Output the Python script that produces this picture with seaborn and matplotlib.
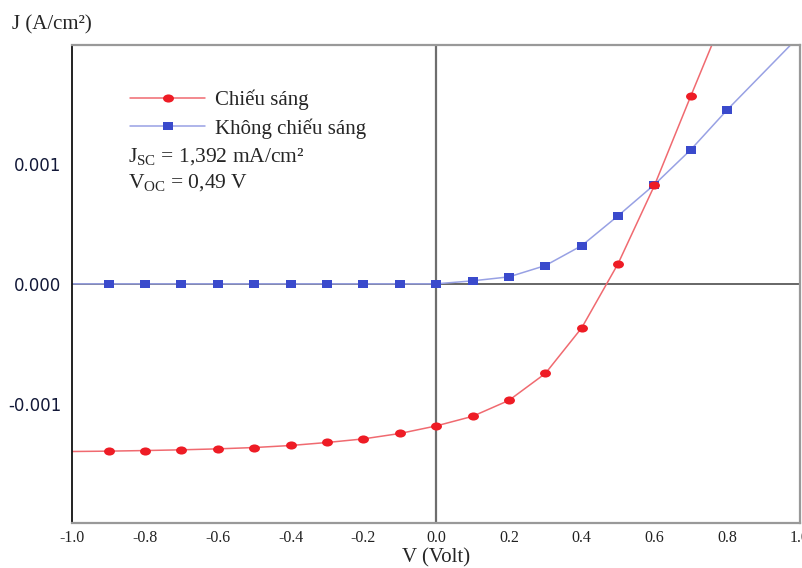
import matplotlib
matplotlib.use("Agg")
import matplotlib.pyplot as plt
import seaborn as sns
import pandas as pd
from matplotlib.lines import Line2D
from matplotlib.path import Path
from matplotlib.transforms import Affine2D

# ---- data ----
volt = [-0.9, -0.8, -0.7, -0.6, -0.5, -0.4, -0.3, -0.2, -0.1, 0.0,
        0.1, 0.2, 0.3, 0.4, 0.5, 0.6, 0.7]
j_light = [-1.394e-3, -1.389e-3, -1.383e-3, -1.375e-3, -1.364e-3, -1.347e-3,
           -1.322e-3, -1.292e-3, -1.247e-3, -1.184e-3, -1.104e-3, -0.971e-3,
           -0.747e-3, -0.367e-3, 0.168e-3, 0.820e-3, 1.566e-3]

volt_dark = [-0.9, -0.8, -0.7, -0.6, -0.5, -0.4, -0.3, -0.2, -0.1, 0.0,
             0.1, 0.2, 0.3, 0.4, 0.5, 0.6, 0.7, 0.8]
j_dark = [0.0, 0.0, 0.0, 0.0, 0.0, 0.0, 0.0, 0.0, 0.0, 0.0,
          0.025e-3, 0.058e-3, 0.152e-3, 0.318e-3, 0.567e-3, 0.827e-3,
          1.118e-3, 1.450e-3]

# curve end points (fitted lines extend beyond the markers)
light_curve_v = [-1.0] + volt + [0.8]
light_curve_j = [-1.397e-3] + j_light + [2.30e-3]
dark_curve_v = [-1.0] + volt_dark + [1.0]
dark_curve_j = [0.0] + j_dark + [2.07e-3]

x_ticks = [-1.0, -0.8, -0.6, -0.4, -0.2, 0.0, 0.2, 0.4, 0.6, 0.8, 1.0]
x_tick_labels = ["-1.0", "-0.8", "-0.6", "-0.4", "-0.2", "0.0", "0.2", "0.4",
                 "0.6", "0.8", "1.0"]
y_ticks = [-0.001, 0.0, 0.001]
y_tick_labels = ["-0.001", "0.000", "0.001"]

label_light = "Chiếu sáng"
label_dark = "Không chiếu sáng"
jsc_text = r"J$_{\mathregular{SC}}$ = 1,392 mA/cm²"
voc_text = r"V$_{\mathregular{OC}}$ = 0,49 V"

# ---- style ----
sns.set_style("white")
plt.rcParams["font.family"] = ["Liberation Serif", "DejaVu Serif"]
plt.rcParams["mathtext.fontset"] = "custom"
plt.rcParams["mathtext.rm"] = "Liberation Serif"
plt.rcParams["mathtext.it"] = "Liberation Serif:italic"

red = "#ee1c25"
red_line = "#f06a70"
blue = "#3a4acc"
blue_line = "#98a1e4"

# slightly wide marker shapes (ellipse and flat square)
ellipse = Path.unit_circle().transformed(Affine2D().scale(1.35, 1.0))
flat_sq = Path([(-1.2, -1), (1.2, -1), (1.2, 1), (-1.2, 1), (-1.2, -1)],
               [Path.MOVETO, Path.LINETO, Path.LINETO, Path.LINETO,
                Path.CLOSEPOLY])

fig = plt.figure(figsize=(8.02, 5.68), dpi=100)
ax = fig.add_axes([0.0902, 0.0798, 0.9073, 0.841])

ax.axhline(0, color="#5a5a5a", lw=1.3, zorder=1)
ax.axvline(0, color="#6e6e6e", lw=1.6, zorder=1)

df_lc = pd.DataFrame({"V": light_curve_v, "J": light_curve_j})
df_dc = pd.DataFrame({"V": dark_curve_v, "J": dark_curve_j})
df_l = pd.DataFrame({"V": volt, "J": j_light})
df_d = pd.DataFrame({"V": volt_dark, "J": j_dark})

sns.lineplot(data=df_dc, x="V", y="J", color=blue_line, lw=1.1, ax=ax,
             sort=False, zorder=2)
sns.lineplot(data=df_lc, x="V", y="J", color=red_line, lw=1.1, ax=ax,
             sort=False, zorder=2)
sns.scatterplot(data=df_d, x="V", y="J", color=blue, marker=flat_sq, s=46,
                linewidth=0, ax=ax, zorder=3)
sns.scatterplot(data=df_l, x="V", y="J", color=red, marker=ellipse, s=62,
                linewidth=0, ax=ax, zorder=4)

ax.set_xlim(-1.0, 1.0)
ax.set_ylim(-0.00199, 0.00199)

ax.set_xticks(x_ticks)
ax.set_xticklabels(x_tick_labels, fontsize=11.5, color="#222222")
ax.set_yticks(y_ticks)
ax.set_yticklabels(y_tick_labels, fontsize=12, color="#121838",
                   family="DejaVu Sans")
ax.tick_params(axis="x", direction="in", length=4, width=1.2,
               colors="#8a8a8a", labelcolor="#222222", pad=5)
ax.tick_params(axis="y", direction="out", length=6, width=1.2,
               colors="#8a8a8a", labelcolor="#121838", pad=2)
ax.set_xlabel("V (Volt)", fontsize=15, labelpad=2)
ax.set_ylabel("")

for side in ["top", "right", "bottom"]:
    ax.spines[side].set_color("#999999")
    ax.spines[side].set_linewidth(1.6)
ax.spines["left"].set_color("#111111")
ax.spines["left"].set_linewidth(1.3)

fig.text(0.015, 1 - 25 / 568, "J (A/cm²)", fontsize=15, va="center",
         ha="left")

handles = [
    Line2D([], [], color=red_line, lw=1.1, marker=ellipse, markersize=7.9,
           markerfacecolor=red, markeredgewidth=0),
    Line2D([], [], color=blue_line, lw=1.1, marker=flat_sq, markersize=6.8,
           markerfacecolor=blue, markeredgewidth=0),
]
ax.legend(handles, [label_light, label_dark], loc="center left",
          bbox_to_anchor=(0.0793, 0.855), frameon=False, fontsize=15,
          handlelength=3.6, handletextpad=0.5, labelspacing=0.38,
          borderaxespad=0, borderpad=0)

fig.text(128 / 802, 1 - 157 / 568, jsc_text, fontsize=15.5, va="center",
         ha="left")
fig.text(128 / 802, 1 - 183 / 568, voc_text, fontsize=15.5, va="center",
         ha="left")

fig.savefig("out.png", dpi=100)
